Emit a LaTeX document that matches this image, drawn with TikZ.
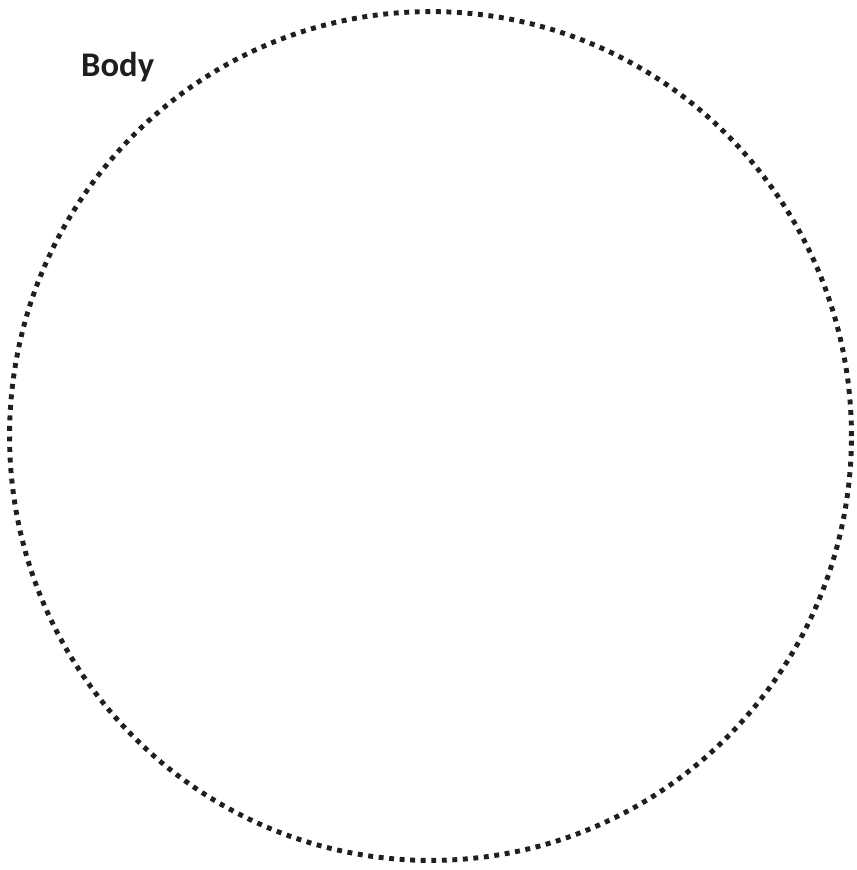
\documentclass[tikz,border=0pt]{standalone}
\usepackage{fontspec}
\setmainfont{Carlito}
\usetikzlibrary{positioning,shapes.geometric}
\tikzset{
  bodyring/.style={draw=black!88, line width=4.2pt, dash pattern=on 4.2pt off 4.8pt, ellipse, minimum width=718.6pt, minimum height=724.5pt, inner sep=0pt},
  bodylabel/.style={font=\fontsize{29.5}{32}\selectfont\bfseries, text=black!88, inner sep=0pt, anchor=base west}
}
\begin{document}
\begin{tikzpicture}[x=0.03cm, y=-0.03cm]
      \useasboundingbox (0,0) rectangle (856,870);
      \node[bodyring] (body) at (430.5,436) {};
      \node[bodylabel] (bodytext) at (81,77) {Body};
    \end{tikzpicture}
\end{document}
